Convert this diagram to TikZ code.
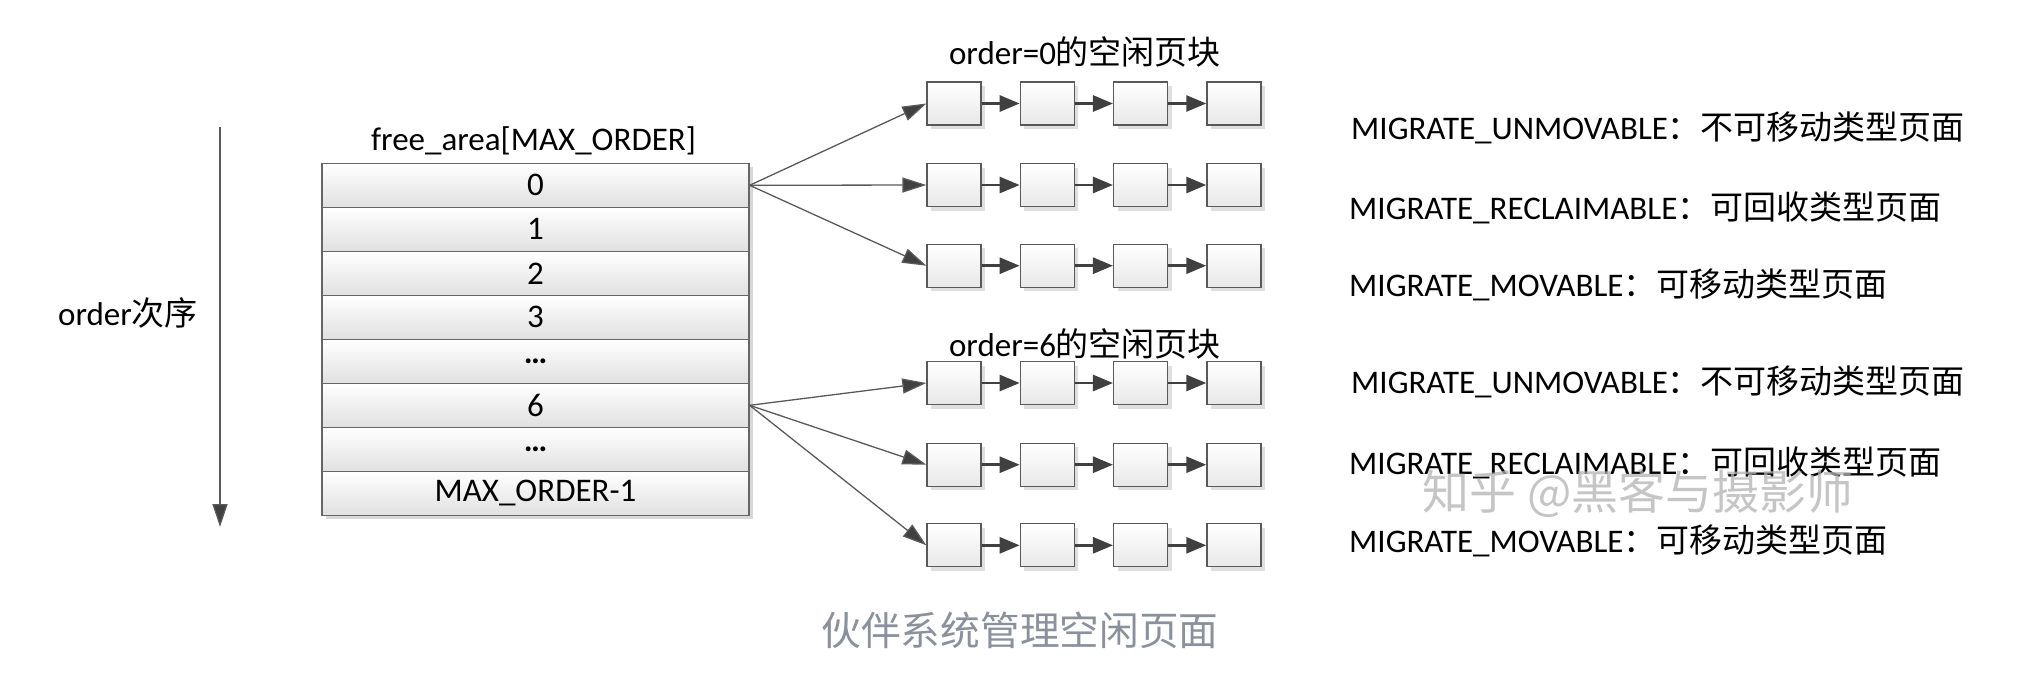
\documentclass[tikz,border=0pt]{standalone}
\usepackage{fontspec}
\setmainfont{Carlito}
\newfontfamily\cjk{Noto Sans CJK SC}
\usetikzlibrary{arrows.meta}
\usetikzlibrary{shadows}
\definecolor{capgray}{HTML}{8A909C}
\tikzset{
  txt/.style={font=\fontsize{33}{40}\selectfont, inner sep=0pt},
  slot/.style={draw=black!60, line width=1.3pt, minimum width=427pt, minimum height=44pt,
    top color=white, bottom color=black!12, inner sep=0pt, font=\fontsize{33}{40}\selectfont,
    drop shadow={shadow xshift=4pt, shadow yshift=-4pt, fill=black!30, opacity=0.5}},
  page/.style={draw=black!65, line width=1.3pt, minimum width=54pt, minimum height=43pt,
    top color=white, bottom color=black!9, inner sep=0pt,
    drop shadow={shadow xshift=4pt, shadow yshift=-4pt, fill=black!25, opacity=0.5}},
  link/.style={draw=black!75, line width=2.8pt, -{Triangle[length=20pt,width=16pt]}},
  fan/.style={draw=black!65, line width=1.3pt, -{Triangle[length=24pt,width=15pt,fill=black!75]}},
}
\newcommand{\dotsrow}{\textbf{\textellipsis}}
\begin{document}
\begin{tikzpicture}[x=1pt,y=-1pt]
\def\rowh{44}
\def\gap{93.3}
\useasboundingbox (0,0) rectangle (2033,681);

% order axis
\coordinate (axtop) at (220,127);
\coordinate (axbot) at (220,527);
\draw[draw=black!65, line width=1.3pt, -{Triangle[length=23pt,width=15pt,fill=black!75]}] (axtop) -- (axbot);
\node[txt] (ordlbl) at (128,313) {order\cjk 次序};

% free_area table
\node[txt] (title) at (533.5,141) {free\_area[MAX\_ORDER]};
\foreach \t [count=\i from 0] in {0,1,2,3,\dotsrow,6,\dotsrow,MAX\_ORDER-1}
  \node[slot] (slot\i) at (535.5,{185.3+\i*\rowh}) {\t};

% free page lists
\node[txt] (blk0) at (1085,51.7) {order=0\cjk 的空闲页块};
\node[txt] (blk6) at (1085,344) {order=6\cjk 的空闲页块};
\foreach \r/\y in {1/103.5,2/185,3/265.7,4/383,5/464.7,6/545.3}{
  \foreach \c in {1,...,4}
    \node[page] (b\r-\c) at ({954+(\c-1)*\gap},\y) {};
  \foreach \c [evaluate=\c as \d using int(\c+1)] in {1,2,3}
    \draw[link] (b\r-\c.east) -- (b\r-\d.west);
}
\foreach \r in {1,2,3}
  \draw[fan] (slot0.east) -- (b\r-1.west);
\foreach \r in {4,5,6}
  \draw[fan] (slot5.east) -- (b\r-1.west);

% migrate types
\node[txt, anchor=west] (mt1) at (1351,128) {MIGRATE\_UNMOVABLE{\cjk ：不可移动类型页面}};
\node[txt, anchor=west] (mt2) at (1349,207.6) {MIGRATE\_RECLAIMABLE{\cjk ：可回收类型页面}};
\node[txt, anchor=west] (mt3) at (1349,284.5) {MIGRATE\_MOVABLE{\cjk ：可移动类型页面}};
\node[txt, anchor=west] (mt4) at (1351,382) {MIGRATE\_UNMOVABLE{\cjk ：不可移动类型页面}};
\node[txt, anchor=west] (mt5) at (1349,462.6) {MIGRATE\_RECLAIMABLE{\cjk ：可回收类型页面}};
\node[txt, anchor=west] (mt6) at (1349,540.8) {MIGRATE\_MOVABLE{\cjk ：可移动类型页面}};

% watermark and caption
\node[inner sep=0pt, text=black!30, opacity=0.75, font=\cjk\fontsize{47}{50}\selectfont] (mark) at (1638,494) {知乎 @黑客与摄影师};
\node[inner sep=0pt, text=capgray, font=\cjk\fontsize{39.7}{44}\selectfont] (cap) at (1020,630) {伙伴系统管理空闲页面};
\end{tikzpicture}
\end{document}
